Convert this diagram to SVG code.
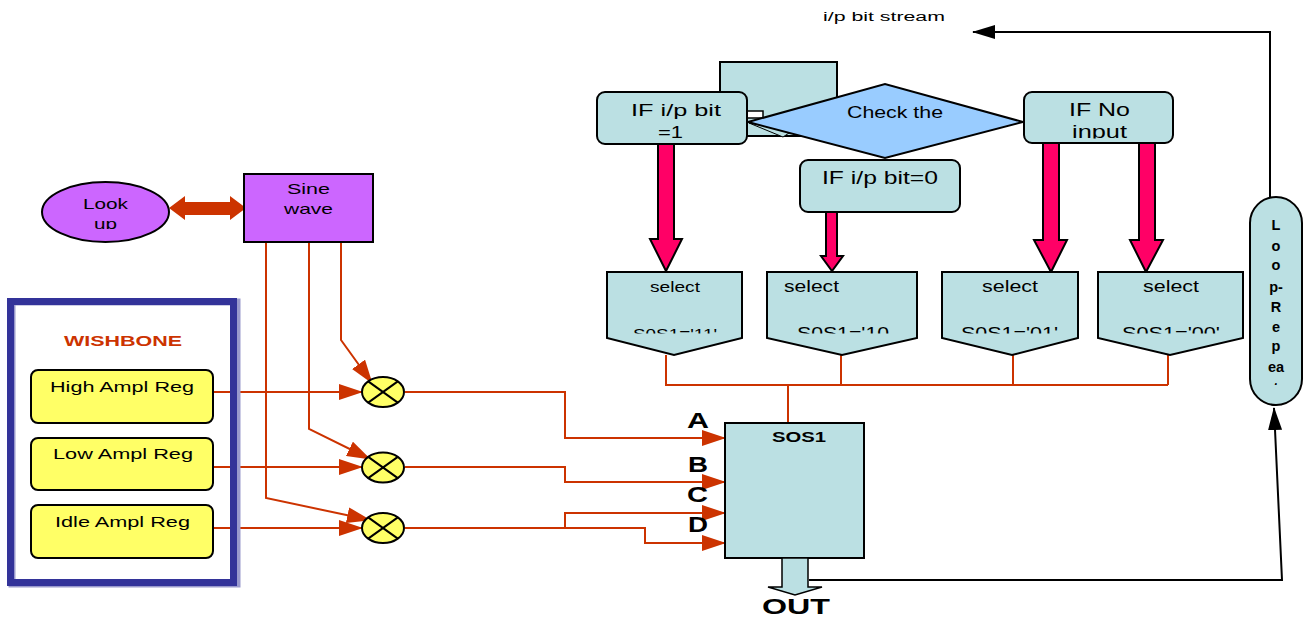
<svg xmlns="http://www.w3.org/2000/svg" width="1306" height="619" viewBox="0 0 1306 619">
<style>
text{font-family:"Liberation Sans",Arial,sans-serif;fill:#000}
.t{font-size:15px}
.b{font-weight:bold}
.teal{fill:#BBE0E3;stroke:#000;stroke-width:2}
.purple{fill:#CC66FF;stroke:#000;stroke-width:2}
.yel{fill:#FFFF66;stroke:#000;stroke-width:2}
.pink{fill:#FF0066;stroke:#000;stroke-width:2;stroke-linejoin:miter}
.or{fill:none;stroke:#CC3300;stroke-width:2}
.blk{fill:none;stroke:#000;stroke-width:2}
</style>
<defs>
<marker id="ao" markerUnits="userSpaceOnUse" markerWidth="24" markerHeight="16" refX="23" refY="8" orient="auto"><path d="M0,0 L24,8 L0,16 z" fill="#CC3300"/></marker>
<marker id="ab" markerUnits="userSpaceOnUse" markerWidth="23" markerHeight="14" refX="22" refY="7" orient="auto"><path d="M0,0 L23,7 L0,14 z" fill="#000"/></marker>
<clipPath id="cUp"><rect x="40" y="180" width="130" height="49"/></clipPath>
<clipPath id="cInput"><rect x="1024" y="92" width="149" height="46.5"/></clipPath>
<clipPath id="cSel"><rect x="600" y="272" width="650" height="61.5"/></clipPath>
<clipPath id="cLoop"><rect x="1250" y="200" width="52" height="185"/></clipPath>
</defs>

<g id="connectors">
<polyline class="blk" points="1270,197 1270,32 973,32" marker-end="url(#ab)"/>
<polyline class="blk" points="809,580 1282,580 1274,408" marker-end="url(#ab)"/>
<polyline class="or" points="666,355 666,385 1168,385"/>
<line class="or" x1="841" y1="355" x2="841" y2="385"/>
<line class="or" x1="1013" y1="355" x2="1013" y2="385"/>
<line class="or" x1="1168" y1="355" x2="1168" y2="385"/>
<line class="or" x1="788" y1="385" x2="788" y2="423"/>
<line class="or" x1="213" y1="392" x2="362" y2="392" marker-end="url(#ao)"/>
<line class="or" x1="213" y1="467" x2="362" y2="467" marker-end="url(#ao)"/>
<line class="or" x1="213" y1="528" x2="362" y2="528" marker-end="url(#ao)"/>
<polyline class="or" points="341,242 341,340 372,383" marker-end="url(#ao)"/>
<polyline class="or" points="309,242 309,429 370,459" marker-end="url(#ao)"/>
<polyline class="or" points="266,242 266,498 370,520" marker-end="url(#ao)"/>
<polyline class="or" points="405,392 565,392 565,438 725,438" marker-end="url(#ao)"/>
<polyline class="or" points="405,467 565,467 565,482 725,482" marker-end="url(#ao)"/>
<polyline class="or" points="405,528 645,528 645,543 725,543" marker-end="url(#ao)"/>
<polyline class="or" points="565,528 565,513 725,513" marker-end="url(#ao)"/>
<polygon points="169,208 185,196 185,202 230,202 230,196 246,208 230,220 230,215 185,215 185,220" fill="#CC3300"/>
</g>

<g id="wishbone">
<rect x="12" y="302" width="225" height="282" fill="none" stroke="#9999CC" stroke-width="7"/>
<rect x="10.5" y="301.5" width="223" height="281" fill="none" stroke="#333399" stroke-width="7"/>
<text x="123" y="346" class="t b" style="fill:#CC3300" text-anchor="middle" textLength="118" lengthAdjust="spacingAndGlyphs">WISHBONE</text>
</g>
<g id="high-reg"><rect class="yel" x="31" y="370" width="182" height="53" rx="7"/><text x="50" y="392" class="t" textLength="144" lengthAdjust="spacingAndGlyphs">High Ampl Reg</text></g>
<g id="low-reg"><rect class="yel" x="31" y="438" width="182" height="52" rx="7"/><text x="53" y="459" class="t" textLength="140" lengthAdjust="spacingAndGlyphs">Low Ampl Reg</text></g>
<g id="idle-reg"><rect class="yel" x="31" y="505" width="182" height="53" rx="7"/><text x="55" y="527" class="t" textLength="135" lengthAdjust="spacingAndGlyphs">Idle Ampl Reg</text></g>

<g id="lookup"><ellipse class="purple" cx="105.5" cy="212" rx="63.5" ry="30"/>
<text x="83" y="209" class="t" textLength="45" lengthAdjust="spacingAndGlyphs">Look</text>
<text x="94" y="228.5" class="t" clip-path="url(#cUp)" textLength="23" lengthAdjust="spacingAndGlyphs">up</text></g>
<g id="sine"><rect class="purple" x="244" y="174" width="129" height="68"/>
<text x="287" y="194" class="t" textLength="43" lengthAdjust="spacingAndGlyphs">Sine</text>
<text x="284" y="214" class="t" textLength="49" lengthAdjust="spacingAndGlyphs">wave</text></g>

<g id="mult1"><ellipse class="yel" cx="383" cy="392" rx="21" ry="15"/><path class="blk" d="M368.2,381.4 L397.8,402.6 M368.2,402.6 L397.8,381.4"/></g>
<g id="mult2"><ellipse class="yel" cx="383" cy="467.5" rx="21" ry="15"/><path class="blk" d="M368.2,456.9 L397.8,478.1 M368.2,478.1 L397.8,456.9"/></g>
<g id="mult3"><ellipse class="yel" cx="383" cy="528" rx="21" ry="15"/><path class="blk" d="M368.2,517.4 L397.8,538.6 M368.2,538.6 L397.8,517.4"/></g>

<g id="sos1"><rect class="teal" x="725" y="423" width="139" height="135"/>
<text x="772" y="442" class="b" font-size="14.5" textLength="54" lengthAdjust="spacingAndGlyphs">SOS1</text></g>
<g id="labels" class="b" font-size="21.5">
<text x="687" y="428" textLength="22" lengthAdjust="spacingAndGlyphs">A</text>
<text x="688" y="472" textLength="20" lengthAdjust="spacingAndGlyphs">B</text>
<text x="687" y="502" textLength="21" lengthAdjust="spacingAndGlyphs">C</text>
<text x="688" y="532" textLength="20" lengthAdjust="spacingAndGlyphs">D</text>
</g>
<g id="out"><polygon points="782,558 808,558 808,587 822,587 795,595 768,587 782,587" fill="#BBE0E3" stroke="#000" stroke-width="1.5"/>
<text x="762" y="614" class="b" font-size="22" textLength="68" lengthAdjust="spacingAndGlyphs">OUT</text></g>

<g id="back-box"><rect class="teal" x="720" y="62" width="117" height="74"/>
<polygon points="749,123 792,131 783,137" fill="#BBE0E3" stroke="#000" stroke-width="1"/>
<rect x="747" y="111" width="16" height="7" fill="#fff" stroke="#000" stroke-width="1.5"/></g>
<g id="check"><polygon points="748,122 885,84 1023,122 885,158" fill="#99CCFF" stroke="#000" stroke-width="2"/>
<text x="847" y="118" font-size="16" textLength="96" lengthAdjust="spacingAndGlyphs">Check the</text></g>
<g id="if1"><rect class="teal" x="597" y="92" width="150" height="52" rx="8"/>
<text x="631" y="116" font-size="17" textLength="90" lengthAdjust="spacingAndGlyphs">IF i/p bit</text>
<text x="658" y="138" font-size="17" textLength="25" lengthAdjust="spacingAndGlyphs">=1</text></g>
<g id="if0"><rect class="teal" x="800" y="160" width="160" height="52" rx="8"/>
<text x="822" y="184" font-size="19" textLength="116" lengthAdjust="spacingAndGlyphs">IF i/p bit=0</text></g>
<g id="ifno"><rect class="teal" x="1024" y="92" width="149" height="51" rx="8"/>
<text x="1069" y="116" font-size="17.5" textLength="61" lengthAdjust="spacingAndGlyphs">IF No</text>
<text x="1072" y="138" font-size="17.5" clip-path="url(#cInput)" textLength="55" lengthAdjust="spacingAndGlyphs">input</text></g>

<g id="pink-arrows">
<polygon class="pink" points="658,144 674,144 674,239 682,239 666,271 650,239 658,239"/>
<polygon class="pink" points="826,212 837,212 837,256 843,256 832,271 821,256 826,256"/>
<polygon class="pink" points="1043,143 1059,143 1059,240 1067,240 1051,272 1034,240 1043,240"/>
<polygon class="pink" points="1139,143 1155,143 1155,240 1163,240 1146,272 1130,240 1139,240"/>
</g>

<g id="sel1"><polygon class="teal" points="607,272 742,272 742,338 674,355 607,338"/>
<text x="650" y="292" font-size="14.5" textLength="50" lengthAdjust="spacingAndGlyphs">select</text>
<text x="633" y="339" font-size="14.5" clip-path="url(#cSel)" textLength="84" lengthAdjust="spacingAndGlyphs">S0S1='11'</text></g>
<g id="sel2"><polygon class="teal" points="767,272 917,272 917,338 842,355 767,338"/>
<text x="784" y="292" font-size="16" textLength="55" lengthAdjust="spacingAndGlyphs">select</text>
<text x="797" y="339" font-size="16" clip-path="url(#cSel)" textLength="92" lengthAdjust="spacingAndGlyphs">S0S1='10</text></g>
<g id="sel3"><polygon class="teal" points="942,272 1078,272 1078,338 1012,355 942,338"/>
<text x="982" y="292" font-size="16" textLength="56" lengthAdjust="spacingAndGlyphs">select</text>
<text x="961" y="339" font-size="16" clip-path="url(#cSel)" textLength="97" lengthAdjust="spacingAndGlyphs">S0S1='01'</text></g>
<g id="sel4"><polygon class="teal" points="1098,272 1243,272 1243,338 1170,355 1098,338"/>
<text x="1143" y="292" font-size="16" textLength="56" lengthAdjust="spacingAndGlyphs">select</text>
<text x="1122" y="339" font-size="16" clip-path="url(#cSel)" textLength="98" lengthAdjust="spacingAndGlyphs">S0S1='00'</text></g>

<g id="loop"><rect class="teal" x="1250" y="197" width="52" height="208" rx="26"/>
<g class="b" font-size="14.5" text-anchor="middle" clip-path="url(#cLoop)">
<text x="1276" y="230">L</text>
<text x="1276" y="251">o</text>
<text x="1276" y="270">o</text>
<text x="1276" y="292">p-</text>
<text x="1276" y="312">R</text>
<text x="1276" y="332">e</text>
<text x="1276" y="351">p</text>
<text x="1276" y="372">ea</text>
<text x="1276" y="393">t</text>
</g></g>

<g id="stream-label"><text x="823" y="21" font-size="12" textLength="122" lengthAdjust="spacingAndGlyphs">i/p bit stream</text></g>
</svg>
